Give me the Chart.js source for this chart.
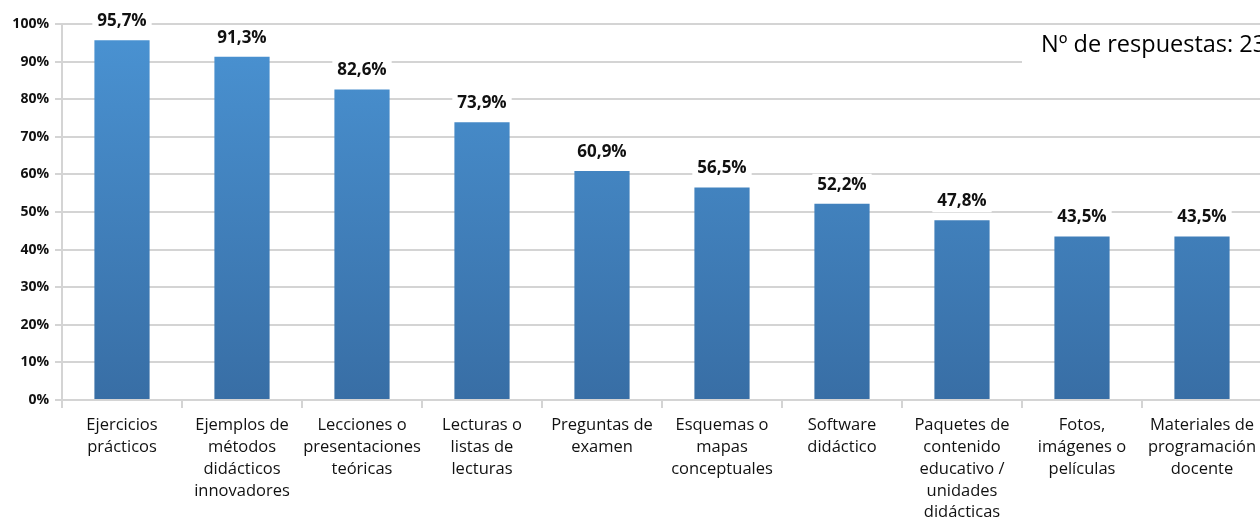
<!DOCTYPE html>
<html>
<head>
<meta charset="utf-8">
<script src="https://cdn.jsdelivr.net/npm/chart.js@4"></script>
<style>
  html, body { margin:0; padding:0; background:#fff; overflow:hidden; }
  #wrap { position:relative; width:1280px; height:523px; }
</style>
</head>
<body>
<div id="wrap"><canvas id="c" width="1280" height="523"></canvas></div>
<script>
const categories = [
  ['Ejercicios', 'prácticos'],
  ['Ejemplos de', 'métodos', 'didácticos', 'innovadores'],
  ['Lecciones o', 'presentaciones', 'teóricas'],
  ['Lecturas o', 'listas de', 'lecturas'],
  ['Preguntas de', 'examen'],
  ['Esquemas o', 'mapas', 'conceptuales'],
  ['Software', 'didáctico'],
  ['Paquetes de', 'contenido', 'educativo /', 'unidades', 'didácticas'],
  ['Fotos,', 'imágenes o', 'películas'],
  ['Materiales de', 'programación', 'docente']
];
const percentages = [95.7, 91.3, 82.6, 73.9, 60.9, 56.5, 52.2, 47.8, 43.5, 43.5];
const yTicks = [0, 10, 20, 30, 40, 50, 60, 70, 80, 90, 100];
const note = 'Nº de respuestas: 23';

const fontFam = '"Open Sans", Lato, sans-serif';
const gridCol = '#d4d4d4';

function barGradient(ctx) {
  const area = ctx.chart.chartArea;
  if (!area) return '#4189cb';
  const g = ctx.chart.ctx.createLinearGradient(0, area.top, 0, area.bottom);
  g.addColorStop(0, '#4a93d3');
  g.addColorStop(1, '#386ea5');
  return g;
}

// value labels above bars, on a white box so gridlines break around them
const valueLabels = {
  id: 'valueLabels',
  afterDatasetsDraw(chart) {
    const c = chart.ctx;
    const meta = chart.getDatasetMeta(0);
    c.save();
    c.font = 'bold 17px ' + fontFam;
    c.textAlign = 'center';
    c.textBaseline = 'middle';
    meta.data.forEach((bar, i) => {
      const txt = percentages[i].toFixed(1).replace('.', ',') + '%';
      const w = c.measureText(txt).width + 10;
      const y = bar.y - 19;
      c.fillStyle = '#fff';
      c.fillRect(bar.x - w / 2, y - 11, w, 22);
      c.fillStyle = '#111';
      c.fillText(txt, bar.x, y);
    });
    c.restore();
  }
};

const noteLabel = {
  id: 'noteLabel',
  afterDraw(chart) {
    const c = chart.ctx;
    c.save();
    c.fillStyle = '#fff';
    c.fillRect(1022, 28, 258, 36);
    c.font = '23.5px ' + fontFam;
    c.fillStyle = '#000';
    c.textBaseline = 'middle';
    c.fillText(note, 1041, 45);
    c.restore();
  }
};

new Chart(document.getElementById('c'), {
  type: 'bar',
  data: {
    labels: categories,
    datasets: [{
      data: percentages,
      backgroundColor: barGradient,
      barPercentage: 0.46,
      categoryPercentage: 1
    }]
  },
  options: {
    responsive: false,
    animation: false,
    layout: { padding: { left: 0, right: 18, top: 24, bottom: 0 } },
    plugins: { legend: { display: false }, tooltip: { enabled: false } },
    scales: {
      x: {
        grid: { offset: true, drawOnChartArea: false, color: gridCol, lineWidth: 2, tickLength: 8 },
        border: { color: gridCol, width: 2 },
        ticks: {
          color: '#111', font: { size: 16.5, family: fontFam, lineHeight: 1.33 },
          maxRotation: 0, autoSkip: false, padding: 6
        },
        afterFit(s) { s.height = 123; }
      },
      y: {
        min: 0, max: 100,
        afterBuildTicks(s) { s.ticks = yTicks.map(v => ({ value: v })); },
        grid: { color: gridCol, lineWidth: 2, tickLength: 7 },
        border: { color: gridCol, width: 2 },
        ticks: {
          color: '#111', font: { size: 14, weight: 'bold', family: fontFam }, padding: 6,
          callback: v => v + '%'
        },
        afterFit(s) { s.width = 62; }
      }
    }
  },
  plugins: [valueLabels, noteLabel]
});
</script>
</body>
</html>
